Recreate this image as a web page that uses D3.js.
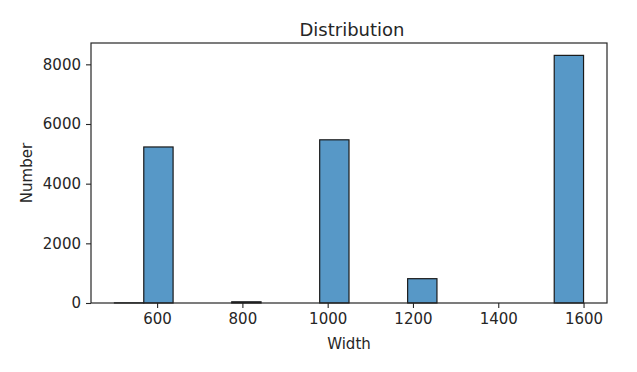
<!DOCTYPE html>
<html>
<head>
<meta charset="utf-8">
<script src="https://cdn.jsdelivr.net/npm/d3@7"></script>
<style>
  body { margin: 0; background: #fff; }
  text { font-family: "DejaVu Sans", sans-serif; fill: #262626; }
</style>
</head>
<body>
<div id="chart"></div>
<script>
// histogram bins (16 equal bins from 500 to 1600) and counts
var binEdges = [500, 568.75, 637.5, 706.25, 775, 843.75, 912.5, 981.25, 1050,
                1118.75, 1187.5, 1256.25, 1325, 1393.75, 1462.5, 1531.25, 1600]
var counts = [5, 5230, 0, 0, 40, 0, 0, 5470, 0, 0, 815, 0, 0, 0, 0, 8300]
var xTicks = [600, 800, 1000, 1200, 1400, 1600]
var yTicks = [0, 2000, 4000, 6000, 8000]

var W = 637, H = 372
var margin = { top: 43, right: 30, bottom: 69, left: 91 }
var width = W - margin.left - margin.right
var height = H - margin.top - margin.bottom

var svg = d3.select("#chart").append("svg")
    .attr("width", W).attr("height", H)

var g = svg.append("g")
    .attr("transform", "translate(" + margin.left + "," + margin.top + ")")

var bins = counts.map(function (c, i) {
  return { x0: binEdges[i], x1: binEdges[i + 1], n: c }
})

var x = d3.scaleLinear().domain([445, 1655]).range([0, width])
var y = d3.scaleLinear().domain([0, 8300 * 1.05]).range([height, 0])

g.selectAll("rect.bar")
  .data(bins)
  .enter().append("rect")
    .attr("class", "bar")
    .attr("x", d => x(d.x0))
    .attr("width", d => x(d.x1) - x(d.x0))
    .attr("y", d => y(d.n))
    .attr("height", d => y(0) - y(d.n))
    .attr("fill", "#5798c7")
    .attr("stroke", "#1a1a1a")
    .attr("stroke-width", 1.2)

// frame
g.append("rect")
  .attr("width", width).attr("height", height)
  .attr("fill", "none").attr("stroke", "#262626").attr("stroke-width", 1.2)

var xAxis = g.append("g")
    .attr("transform", "translate(0," + height + ")")
    .call(d3.axisBottom(x).tickValues(xTicks).tickSize(5).tickPadding(5).tickFormat(d3.format("d")))
var yAxis = g.append("g")
    .call(d3.axisLeft(y).tickValues(yTicks).tickSize(5).tickPadding(5).tickFormat(d3.format("d")))

;[xAxis, yAxis].forEach(function (a) {
  a.select(".domain").remove()
  a.selectAll(".tick line").attr("stroke", "#262626").attr("stroke-width", 1.1)
  a.selectAll(".tick text").style("font-size", "15px").attr("fill", "#262626")
    .style("font-family", "DejaVu Sans, sans-serif")
})

svg.append("text")
  .attr("x", margin.left + width / 2 + 3).attr("y", 36)
  .attr("text-anchor", "middle")
  .style("font-size", "18px")
  .text("Distribution")

svg.append("text")
  .attr("x", margin.left + width / 2).attr("y", 349)
  .attr("text-anchor", "middle")
  .style("font-size", "15px")
  .text("Width")

svg.append("text")
  .attr("transform", "translate(32," + (margin.top + height / 2) + ") rotate(-90)")
  .attr("text-anchor", "middle")
  .style("font-size", "15px")
  .text("Number")
</script>
</body>
</html>
